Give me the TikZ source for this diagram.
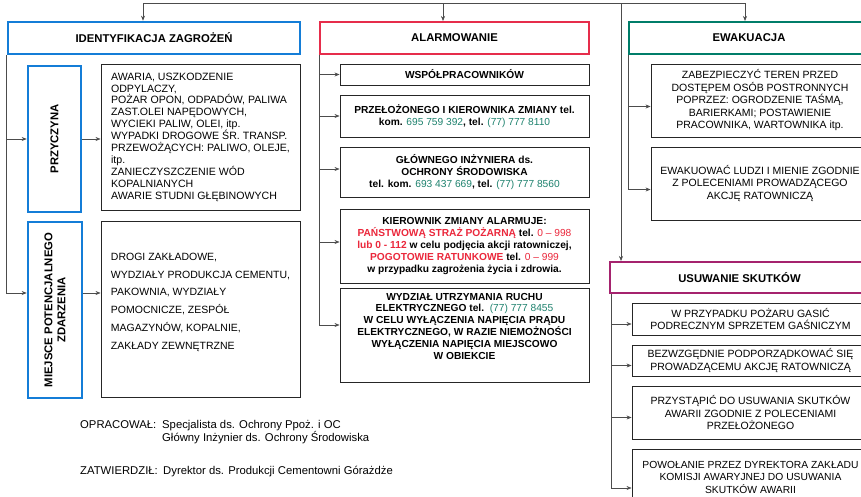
\documentclass[tikz,border=0pt]{standalone}
\usepackage{fontspec}
\setmainfont{Liberation Sans}
\usetikzlibrary{arrows.meta}
\definecolor{niebieski}{RGB}{20,125,215}
\definecolor{czerwony}{RGB}{230,45,75}
\definecolor{morski}{RGB}{0,125,105}
\definecolor{purpura}{RGB}{165,35,110}
\definecolor{telefon}{RGB}{30,130,110}
\definecolor{alarmowy}{RGB}{235,40,60}

\begin{document}
\begin{tikzpicture}[x=1pt, y=-1pt,
	naglowek/.style={draw, line width=2pt, font=\fontsize{11.3}{13}\selectfont\bfseries, inner sep=0pt},
	ramka/.style={draw=black!85, line width=0.9pt, font=\fontsize{10.5}{12.5}\selectfont, inner sep=0pt},
	alarmowa/.style={ramka, font=\fontsize{10.2}{11.8}\selectfont\bfseries, minimum width=249, align=center},
	prawa/.style={ramka, font=\fontsize{10.5}{12.5}\selectfont, align=center},
	pion/.style={draw=niebieski, line width=2.6pt, rotate=90, font=\fontsize{11.3}{13}\selectfont\bfseries, inner sep=0pt, align=center},
	strz/.style={draw=black!70, line width=0.6pt, -{Stealth[length=5pt, width=4pt]}},
	linia/.style={draw=black!70, line width=0.6pt},
	stopka/.style={font=\fontsize{11.3}{13}\selectfont, inner sep=0pt, anchor=base west}]
	\useasboundingbox[fill=white] (0,0) rectangle (861,496);
	\clip (0,0) rectangle (861,496);
	\node[naglowek, draw=niebieski, line width=2.6pt, minimum width=292, minimum height=32] (ident) at (154,38) {IDENTYFIKACJA ZAGROŻEŃ};
	\node[naglowek, draw=czerwony, minimum width=269, minimum height=32] (alarm) at (454.5,38) {ALARMOWANIE};
	\node[naglowek, draw=morski, minimum width=240, minimum height=32] (ewak) at (749,38) {EWAKUACJA};
	\node[naglowek, draw=purpura, minimum width=259, minimum height=31] (usuw) at (739.5,277.5) {USUWANIE SKUTKÓW};
	\node[pion, minimum width=146, minimum height=53] (przyczyna) at (54.5,139) {PRZYCZYNA};
	\node[pion, minimum width=176, minimum height=54] (miejsce) at (55,310) {MIEJSCE POTENCJALNEGO\\ZDARZENIA};
	\node[ramka, font=\fontsize{10.6}{11.9}\selectfont, minimum width=199, minimum height=146, align=left] (przyczyny) at (200.5,137) {AWARIA, USZKODZENIE\\ODPYLACZY,\\POŻAR OPON, ODPADÓW, PALIWA\\ZAST.OLEI NAPĘDOWYCH,\\WYCIEKI PALIW, OLEI, itp.\\WYPADKI DROGOWE ŚR. TRANSP.\\PRZEWOŻĄCYCH: PALIWO, OLEJE,\\itp.\\ZANIECZYSZCZENIE WÓD\\KOPALNIANYCH\\AWARIE STUDNI GŁĘBINOWYCH};
	\node[ramka, font=\fontsize{10.5}{17.8}\selectfont, minimum width=199, minimum height=176, align=left] (miejsca) at (200.5,309) {DROGI ZAKŁADOWE,\\WYDZIAŁY PRODUKCJA CEMENTU,\\PAKOWNIA, WYDZIAŁY\\POMOCNICZE, ZESPÓŁ\\MAGAZYNÓW, KOPALNIE,\\ZAKŁADY ZEWNĘTRZNE\\[-2pt]};
	\node[alarmowa, minimum height=21] (wsp) at (464.5,74.5) {WSPÓŁPRACOWNIKÓW};
	\node[alarmowa, minimum height=42] (przel) at (464.5,116) {PRZEŁOŻONEGO I KIEROWNIKA ZMIANY tel.\\kom. {\mdseries\color{telefon}695 759 392}, tel. {\mdseries\color{telefon}(77) 777 8110}};
	\node[alarmowa, minimum height=50] (inz) at (464.5,172) {GŁÓWNEGO INŻYNIERA ds.\\OCHRONY ŚRODOWISKA\\tel. kom. {\mdseries\color{telefon}693 437 669}, tel. {\mdseries\color{telefon}(77) 777 8560}};
	\node[alarmowa, minimum height=74] (kier) at (464.5,246) {KIEROWNIK ZMIANY ALARMUJE:\\{\color{alarmowy}PAŃSTWOWĄ STRAŻ POŻARNĄ} tel. {\mdseries\color{alarmowy}0 – 998}\\{\color{alarmowy}lub 0 - 112} w celu podjęcia akcji ratowniczej,\\{\color{alarmowy}POGOTOWIE RATUNKOWE} tel. {\mdseries\color{alarmowy}0 – 999}\\w przypadku zagrożenia życia i zdrowia.};
	\node[alarmowa, minimum height=94] (wydz) at (464.5,335) {WYDZIAŁ UTRZYMANIA RUCHU\\ELEKTRYCZNEGO tel.\ \ {\mdseries\color{telefon}(77) 777 8455}\\W CELU WYŁĄCZENIA NAPIĘCIA PRĄDU\\ELEKTRYCZNEGO, W RAZIE NIEMOŻNOŚCI\\WYŁĄCZENIA NAPIĘCIA MIEJSCOWO\\W OBIEKCIE\\[6pt]};
	\node[prawa, minimum width=218, minimum height=73] (zabezp) at (760,100.5) {ZABEZPIECZYĆ TEREN PRZED\\DOSTĘPEM OSÓB POSTRONNYCH\\POPRZEZ: OGRODZENIE TAŚMĄ,\\BARIERKAMI; POSTAWIENIE\\PRACOWNIKA, WARTOWNIKA itp.};
	\node[prawa, minimum width=218, minimum height=73] (ewakuow) at (760,183.5) {EWAKUOWAĆ LUDZI I MIENIE ZGODNIE\\Z POLECENIAMI PROWADZĄCEGO\\AKCJĘ RATOWNICZĄ};
	\node[prawa, minimum width=237, minimum height=32] (gasic) at (750.5,319) {W PRZYPADKU POŻARU GASIĆ\\PODRECZNYM SPRZETEM GAŚNICZYM};
	\node[prawa, minimum width=237, minimum height=31] (podp) at (750.5,360.5) {BEZWZGĘDNIE PODPORZĄDKOWAĆ SIĘ\\PROWADZĄCEMU AKCJĘ RATOWNICZĄ};
	\node[prawa, minimum width=237, minimum height=53] (przyst) at (750.5,412.5) {PRZYSTĄPIĆ DO USUWANIA SKUTKÓW\\AWARII ZGODNIE Z POLECENIAMI\\PRZEŁOŻONEGO};
	\node[prawa, font=\fontsize{10.3}{12.5}\selectfont, minimum width=237, minimum height=56] (powol) at (750.5,477) {POWOŁANIE PRZEZ DYREKTORA ZAKŁADU\\KOMISJI AWARYJNEJ DO USUWANIA\\SKUTKÓW AWARII};
	\node[stopka] (opracowal) at (80,428) {OPRACOWAŁ:};
	\node[stopka] (autor1) at (162,428) {Specjalista ds. Ochrony Ppoż. i OC};
	\node[stopka] (autor2) at (162,441) {Główny Inżynier ds. Ochrony Środowiska};
	\node[stopka] (zatwierdzil) at (80,474) {ZATWIERDZIŁ:};
	\node[stopka] (dyrektor) at (163,474) {Dyrektor ds. Produkcji Cementowni Górażdże};
	\coordinate (g1) at (143,3);
	\coordinate (g2) at (443,3);
	\coordinate (g3) at (621,3);
	\coordinate (g4) at (745,3);
	\draw[linia] (g1) -- (g4);
	\draw[strz] (g1) -- (g1 |- ident.north);
	\draw[strz] (g2) -- (g2 |- alarm.north);
	\draw[strz] (g3) -- (g3 |- usuw.north);
	\draw[strz] (g4) -- (g4 |- ewak.north);
	\draw[strz] (ident.south west) |- ([yshift=17pt]miejsce.north);
	\draw[strz] (ident.south west |- przyczyna.north) -- (przyczyna.north);
	\draw[strz] (przyczyna.south) -- (przyczyna.south -| przyczyny.west);
	\draw[strz] ([yshift=17pt]miejsce.south) -- ([yshift=17pt]miejsce.south -| miejsca.west);
	\draw[strz] (alarm.south west) |- ([yshift=10pt]wydz.west);
	\draw[strz] (alarm.south west |- wsp.west) -- (wsp.west);
	\draw[strz] (alarm.south west |- przel.west) -- (przel.west);
	\draw[strz] ([yshift=3pt]alarm.south west |- inz.west) -- ([yshift=3pt]inz.west);
	\draw[strz] ([yshift=4pt]alarm.south west |- kier.west) -- ([yshift=4pt]kier.west);
	\draw[strz] (ewak.south west) |- ([yshift=-6pt]ewakuow.west);
	\draw[strz] ([yshift=-6pt]ewak.south west |- zabezp.west) -- ([yshift=-6pt]zabezp.west);
	\draw[strz] ([xshift=2pt]usuw.south west) |- ([yshift=-11pt]powol.west);
	\draw[strz] ([xshift=2pt,yshift=-5pt]usuw.south west |- gasic.west) -- ([yshift=-5pt]gasic.west);
	\draw[strz] ([xshift=2pt,yshift=-5pt]usuw.south west |- podp.west) -- ([yshift=-5pt]podp.west);
	\draw[strz] ([xshift=2pt,yshift=-5pt]usuw.south west |- przyst.west) -- ([yshift=-5pt]przyst.west);
\end{tikzpicture}
\end{document}
